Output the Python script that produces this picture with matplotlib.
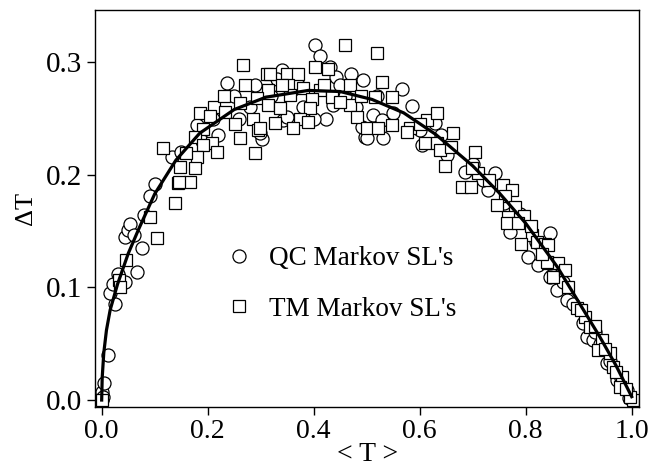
import matplotlib
matplotlib.use("Agg")
import matplotlib.pyplot as plt

plt.rcParams['font.family'] = ['Liberation Serif', 'DejaVu Serif']

# QC Markov SL's (circles)
qc_x = [0.0, 0.001, 0.005, 0.002, 0.0125, 0.025, 0.0157, 0.022, 0.030, 0.044,
        0.066, 0.0766, 0.044, 0.050, 0.053, 0.0615, 0.079, 0.091, 0.1006, 0.132,
        0.179, 0.22, 0.236, 0.302, 0.2987, 0.3396, 0.3426, 0.349, 0.4025, 0.412,
        0.431, 0.443, 0.4936, 0.423, 0.437, 0.497, 0.4906, 0.566, 0.585, 0.5125,
        0.531, 0.500, 0.528, 0.629, 0.6038, 0.651, 0.6855, 0.742, 0.7294, 0.770,
        0.8458, 0.805, 0.8238, 0.849, 0.8458, 0.8585, 0.877, 0.9087, 0.915, 0.9275,
        0.953, 0.972, 0.9906, 0.995,
        0.26, 0.28, 0.32, 0.36, 0.38, 0.40, 0.46, 0.48, 0.52, 0.55,
        0.60, 0.64, 0.70, 0.72, 0.76, 0.79, 0.82, 0.87, 0.89, 0.93,
        0.94, 0.96, 0.98, 0.15, 0.19, 0.21, 0.25, 0.29, 0.33, 0.37,
        0.45, 0.47]
qc_y = [0.0, 0.0074, 0.015, 0.003, 0.040, 0.085, 0.0953, 0.103, 0.112, 0.105,
        0.114, 0.135, 0.145, 0.151, 0.156, 0.1465, 0.164, 0.181, 0.192, 0.216,
        0.244, 0.235, 0.282, 0.232, 0.2369, 0.293, 0.2487, 0.2516, 0.315, 0.3055,
        0.296, 0.2866, 0.284, 0.250, 0.262, 0.234, 0.2427, 0.2759, 0.261, 0.253,
        0.2324, 0.2324, 0.2487, 0.2457, 0.2265, 0.2176, 0.2028, 0.2013, 0.1865, 0.1495,
        0.148, 0.1273, 0.120, 0.111, 0.1095, 0.0977, 0.0888, 0.068, 0.0562, 0.0533,
        0.0326, 0.0178, 0.0089, 0.002,
        0.25, 0.26, 0.27, 0.275, 0.26, 0.25, 0.27, 0.26, 0.27, 0.255,
        0.24, 0.235, 0.21, 0.195, 0.175, 0.165, 0.14, 0.105, 0.085, 0.06,
        0.05, 0.035, 0.02, 0.22, 0.23, 0.25, 0.27, 0.28, 0.285, 0.28,
        0.28, 0.29]

# TM Markov SL's (squares)
tm_x = [0.0, 1.003, 0.9975, 0.0327, 0.0345, 0.045, 0.104, 0.091, 0.138, 0.1446,
        0.116, 0.1855, 0.212, 0.204, 0.233, 0.261, 0.2515, 0.286, 0.2955, 0.261,
        0.192, 0.176, 0.2075, 0.192, 0.217, 0.179, 0.160, 0.176, 0.148, 0.1666,
        0.1464, 0.289, 0.266, 0.311, 0.459, 0.3175, 0.349, 0.371, 0.4025, 0.4276,
        0.352, 0.380, 0.3144, 0.2925, 0.355, 0.412, 0.4685, 0.434, 0.396, 0.3144,
        0.3364, 0.393, 0.4685, 0.374, 0.327, 0.3898, 0.3615, 0.2987, 0.481, 0.519,
        0.528, 0.547, 0.5157, 0.500, 0.522, 0.547, 0.5817, 0.5755, 0.613, 0.632,
        0.610, 0.632, 0.6634, 0.638, 0.6477, 0.7043, 0.7106, 0.698, 0.679, 0.697,
        0.7577, 0.7747, 0.761, 0.745, 0.780, 0.767, 0.797, 0.764, 0.786, 0.811,
        0.792, 0.821, 0.836, 0.8427, 0.8615, 0.8427, 0.8396, 0.852, 0.874, 0.896,
        0.912, 0.9213, 0.9434, 0.937, 0.959, 0.965, 0.981, 0.978,
        0.23, 0.27, 0.34, 0.42, 0.45, 0.49, 0.88, 0.905, 0.93, 0.95,
        0.97, 0.99, 0.60, 0.66, 0.73, 0.81, 0.83]
tm_y = [0.0, 0.0, 0.003, 0.1066, 0.1006, 0.124, 0.1436, 0.163, 0.175, 0.193,
        0.2235, 0.2546, 0.2605, 0.252, 0.256, 0.264, 0.245, 0.250, 0.240, 0.233,
        0.241, 0.234, 0.228, 0.2265, 0.2205, 0.216, 0.219, 0.206, 0.207, 0.194,
        0.194, 0.219, 0.298, 0.29, 0.315, 0.290, 0.290, 0.2895, 0.296, 0.2937,
        0.2797, 0.2768, 0.2753, 0.268, 0.2709, 0.2753, 0.2797, 0.2688, 0.267, 0.262,
        0.259, 0.259, 0.262, 0.250, 0.2457, 0.2472, 0.2413, 0.2413, 0.2516, 0.308,
        0.2827, 0.2694, 0.2688, 0.2413, 0.2413, 0.2442, 0.2413, 0.2383, 0.2487, 0.2552,
        0.228, 0.228, 0.2374, 0.222, 0.208, 0.2205, 0.2013, 0.2058, 0.189, 0.189,
        0.191, 0.1865, 0.181, 0.173, 0.1717, 0.1628, 0.1634, 0.157, 0.157, 0.1465,
        0.139, 0.1406, 0.139, 0.1214, 0.1214, 0.1377, 0.1228, 0.1095, 0.1155, 0.0814,
        0.074, 0.0651, 0.0533, 0.0444, 0.0414, 0.0296, 0.0207, 0.0118,
        0.27, 0.28, 0.28, 0.28, 0.265, 0.27, 0.10, 0.08, 0.066, 0.045,
        0.025, 0.01, 0.245, 0.225, 0.195, 0.155, 0.13]

# solid curve
fit_x = [0.0, 0.001, 0.004, 0.009, 0.016, 0.03, 0.05, 0.07, 0.1, 0.14,
         0.185, 0.25, 0.31, 0.39, 0.45, 0.51, 0.57, 0.63, 0.7, 0.75,
         0.8, 0.86, 0.9, 0.94, 0.97, 1.0]
fit_y = [0.0, 0.02, 0.042, 0.062, 0.080, 0.103, 0.130, 0.152, 0.183, 0.213,
         0.237, 0.258, 0.269, 0.275, 0.274, 0.267, 0.255, 0.236, 0.208, 0.184,
         0.157, 0.118, 0.087, 0.056, 0.031, 0.003]

fig = plt.figure(figsize=(6.62, 4.68), dpi=100)
ax = fig.add_axes([0.1435, 0.1303, 0.8225, 0.8483])

ax.plot(qc_x, qc_y, 'o', ms=9.4, mfc='white', mec='black', mew=0.9,
        label="QC Markov SL's")
ax.plot(tm_x, tm_y, 's', ms=8.6, mfc='white', mec='black', mew=0.9,
        label="TM Markov SL's")
ax.plot(fit_x, fit_y, '-', color='black', lw=2.3)

ax.set_xlim(-0.0126, 1.0147)
ax.set_ylim(-0.0062, 0.3464)
ax.set_xticks([0.0, 0.2, 0.4, 0.6, 0.8, 1.0])
ax.set_yticks([0.0, 0.1, 0.2, 0.3])
ax.set_xticklabels(['0.0', '0.2', '0.4', '0.6', '0.8', '1.0'])
ax.set_yticklabels(['0.0', '0.1', '0.2', '0.3'])
ax.tick_params(direction='out', length=5.5, width=1.0, labelsize=20, pad=3)
ax.tick_params(axis='y', labelsize=21, pad=4)
for s in ax.spines.values():
    s.set_linewidth(1.0)

ax.set_xlabel('< T >', fontsize=20, labelpad=-1)
ax.set_ylabel('ΔT', fontsize=19, labelpad=6)

ax.legend(loc='upper left', bbox_to_anchor=(0.2387, 0.405), frameon=False,
          fontsize=19.5, handlelength=1.0, handletextpad=0.62, labelspacing=0.95,
          borderpad=0, borderaxespad=0)

fig.savefig('out.png', dpi=100)
